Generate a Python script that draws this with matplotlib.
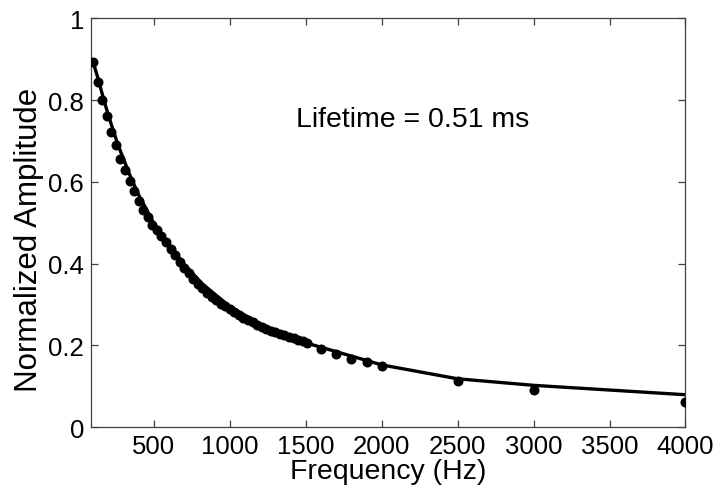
import matplotlib
matplotlib.use("Agg")
import matplotlib.pyplot as plt
import numpy as np

plt.rcParams['font.family'] = ['Liberation Sans', 'DejaVu Sans']

freq = [100, 130, 160, 190, 220, 250, 280, 310, 340, 370, 400, 430, 460, 490,
        520, 550, 580, 610, 640, 670, 700, 730, 760, 790, 820, 850, 880, 910,
        940, 970, 1000, 1030, 1060, 1090, 1120, 1150, 1180, 1210, 1240, 1270,
        1300, 1330, 1360, 1390, 1420, 1450, 1480, 1510,
        1600, 1700, 1800, 1900, 2000, 2500, 3000, 4000]
amp = [0.893, 0.845, 0.801, 0.761, 0.722, 0.690, 0.656, 0.629, 0.603, 0.577,
       0.554, 0.531, 0.513, 0.495, 0.482, 0.468, 0.452, 0.436, 0.420, 0.404,
       0.390, 0.377, 0.362, 0.350, 0.339, 0.328, 0.318, 0.310, 0.302, 0.295,
       0.288, 0.281, 0.274, 0.267, 0.261, 0.256, 0.250, 0.245, 0.240, 0.236,
       0.232, 0.228, 0.224, 0.221, 0.217, 0.214, 0.210, 0.205,
       0.191, 0.179, 0.167, 0.158, 0.149, 0.113, 0.090, 0.060]

# fitted curve
fit_freq = [100, 130, 160, 190, 220, 250, 280, 340, 400, 490, 580, 700, 820,
            1000, 1210, 1510, 2000, 2500, 3000, 4000]
fit_amp = [0.893, 0.856, 0.815, 0.776, 0.740, 0.706, 0.675, 0.618, 0.568,
           0.505, 0.455, 0.398, 0.350, 0.295, 0.250, 0.205, 0.152, 0.118,
           0.102, 0.079]

fig = plt.figure(figsize=(7.18, 4.89), dpi=100)
ax = fig.add_axes([0.1267, 0.1247, 0.828, 0.8358])

ax.plot(fit_freq, fit_amp, '-', color='black', linewidth=2.4, zorder=2)
ax.plot(freq, amp, 'o', color='black', markersize=6.2, zorder=3)

ax.set_xlim(86, 4000)
ax.set_ylim(0, 1)
ax.set_xticks(np.arange(500, 4001, 500))
ax.set_yticks([0, 0.2, 0.4, 0.6, 0.8, 1])
ax.set_yticklabels(['0', '0.2', '0.4', '0.6', '0.8', '1'])

for s in ax.spines.values():
    s.set_color('#404040')
    s.set_linewidth(0.9)
ax.tick_params(direction='in', length=5, width=0.9, color='#404040',
               top=True, right=True, labelsize=18.5, pad=5)

ax.set_xlabel('Frequency (Hz)', fontsize=20.5, labelpad=0)
ax.set_ylabel('Normalized Amplitude', fontsize=22.5)
ax.yaxis.set_label_coords(-0.079, 0.46)

ax.text(1434, 0.753, 'Lifetime = 0.51 ms', fontsize=20.5, ha='left', va='center')

fig.savefig('out.png', dpi=100)
